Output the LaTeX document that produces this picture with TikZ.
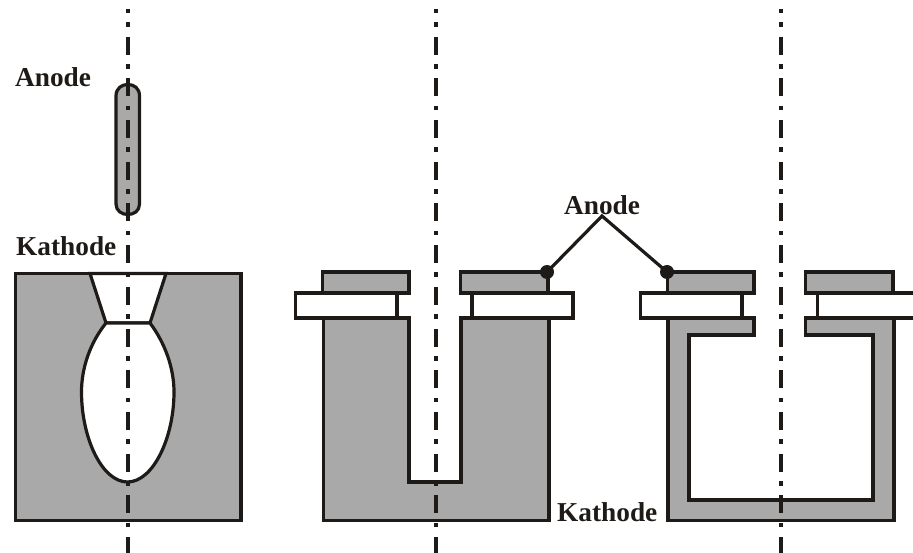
\documentclass[tikz,border=0pt]{standalone}
\usepackage{fontspec}
\setmainfont{Liberation Serif}
\definecolor{ink}{HTML}{1E1A17}
\definecolor{metal}{HTML}{A9A9A9}
\tikzset{
  part/.style={draw=ink,line width=3.2pt,fill=metal,line join=miter},
  hole/.style={draw=ink,line width=3.2pt,fill=white,line join=miter},
  axisline/.style={draw=ink,line width=4.4pt,dash pattern=on 18pt off 9.3pt on 4.6pt off 9.8pt,dash phase=14pt},
  leader/.style={draw=ink,line width=3.2pt},
  lab/.style={font=\fontsize{27.3}{30}\selectfont\bfseries,text=ink,inner sep=0pt,anchor=base west},
  dot/.style={circle,fill=ink,inner sep=0pt,minimum size=14pt}
}
\begin{document}
\begin{tikzpicture}[x=1pt,y=-1pt]
\useasboundingbox (0,0) rectangle (913,553);
% left: anode pill
\draw[part] (116,96) .. controls (116,88) and (122,84.5) .. (127.7,84.5) .. controls (134,84.5) and (139.5,88) .. (139.5,96) -- (139.5,204) .. controls (139.5,211) and (134,214.5) .. (127.7,214.5) .. controls (122,214.5) and (116,211) .. (116,204) -- cycle;
% left: block
\draw[part] (15.5,273.5) rectangle (241,520.5);
\draw[hole] (90,273.5) -- (166,273.5) -- (150,323) -- (106,323) -- cycle;
\draw[hole] (106,323) .. controls (90,343) and (81.5,368) .. (81.5,392) .. controls (81.5,438) and (102,482) .. (127.5,482) .. controls (153,482) and (174,438) .. (174,392) .. controls (174,368) and (165,343) .. (150,323) -- cycle;
% middle
\draw[part] (322.5,272) rectangle (409,293);
\draw[part] (460.5,272) rectangle (548,293);
\draw[hole] (295.5,293) rectangle (397,318);
\draw[hole] (472,293) rectangle (573,318);
\draw[part] (323.5,318) -- (409,318) -- (409,482) -- (461,482) -- (461,318) -- (549,318) -- (549,520.5) -- (323.5,520.5) -- cycle;
% right
\draw[part] (667.5,272) rectangle (754,293);
\draw[part] (805.5,272) rectangle (893,293);
\draw[hole] (640.5,293) rectangle (742,318);
\draw[hole] (817.5,293) rectangle (920,318);
\draw[part] (668,318) -- (754,318) -- (754,335) -- (689,335) -- (689,500) -- (873,500) -- (873,335) -- (805.5,335) -- (805.5,318) -- (894,318) -- (894,520.5) -- (668,520.5) -- cycle;
% axes
\coordinate (a1t) at (127.7,9); \coordinate (a1b) at (127.7,553);
\coordinate (a2t) at (436,9);   \coordinate (a2b) at (436,553);
\coordinate (a3t) at (781,9);   \coordinate (a3b) at (781,553);
\draw[axisline] (a1t) -- (a1b);
\draw[axisline] (a2t) -- (a2b);
\draw[axisline] (a3t) -- (a3b);
% labels
\node[lab] (anodeL) at (15,87) {Anode};
\node[lab] (kathodeL) at (16,256) {Kathode};
\node[lab] (kathodeR) at (557,521) {Kathode};
\node[lab] (anodeM) at (564,215) {Anode};
% leaders
\coordinate (apex) at (602,216);
\node[dot] (d1) at (547,272) {};
\node[dot] (d2) at (667,272) {};
\draw[leader] (d1.center) -- (apex) -- (d2.center);
\end{tikzpicture}
\end{document}
